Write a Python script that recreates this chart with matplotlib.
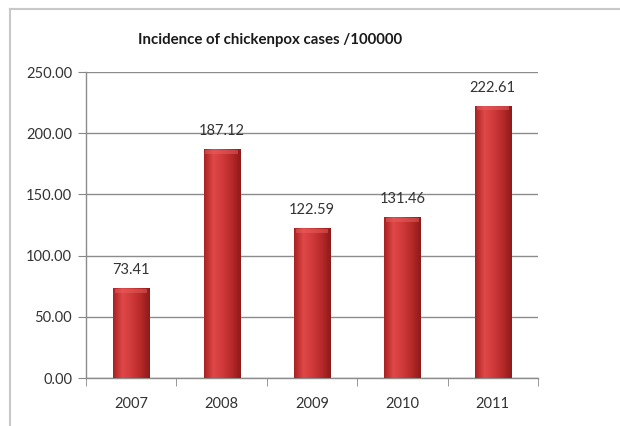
import matplotlib
matplotlib.use("Agg")
import matplotlib.pyplot as plt
import numpy as np
from matplotlib.colors import LinearSegmentedColormap

years = ["2007", "2008", "2009", "2010", "2011"]
values = [73.41, 187.12, 122.59, 131.46, 222.61]
labels = ["73.41", "187.12", "122.59", "131.46", "222.61"]
yticks = [0, 50, 100, 150, 200, 250]
title = "Incidence of chickenpox cases /100000"

plt.rcParams['font.family'] = ['Lato', 'DejaVu Sans']

fig = plt.figure(figsize=(6.2, 4.26), dpi=100)
fig.patch.set_facecolor("white")

# partial frame (top + left) in light gray
fig.add_artist(plt.Line2D([10/620, 1.0], [1-8.5/426]*2, color="#c8c8c8", lw=1.5, transform=fig.transFigure))
fig.add_artist(plt.Line2D([10/620]*2, [0, 1-8.5/426], color="#c8c8c8", lw=1.5, transform=fig.transFigure))

ax = fig.add_axes([86/620, 1-378/426, (538-86)/620, (378-72)/426])
x = np.arange(len(years))
bars = ax.bar(x, values, width=0.4, color="#c83232", edgecolor="#8a1c1c", linewidth=0.6, zorder=3)

cmap = LinearSegmentedColormap.from_list("redgrad", ["#a82222", "#e04848", "#d03a3a", "#b82a2a", "#8e1a1a"])
grad = np.linspace(0, 1, 64).reshape(1, -1)
for b in bars:
    x0, w, h = b.get_x(), b.get_width(), b.get_height()
    im = ax.imshow(grad, extent=[x0, x0 + w, 0, h], aspect="auto", cmap=cmap, zorder=3.5)
    im.set_clip_path(b)
    # top bevel highlight
    ax.fill_between([x0 + 0.02, x0 + w - 0.02], h - 4, h - 0.5, color="#e86060", alpha=0.5, zorder=4, lw=0)

for xi, v, lab in zip(x, values, labels):
    ax.text(xi, v + 9, lab, ha="center", va="bottom", fontsize=10.5, color="#333333")

ax.set_xlim(-0.5, len(years) - 0.5)
ax.set_ylim(0, 250)
ax.set_yticks(yticks)
ax.set_yticklabels([f"{t:.2f}" for t in yticks], fontsize=10.5, color="#333333")
ax.set_xticks(x)
ax.set_xticklabels(years, fontsize=10.5, color="#333333")
ax.set_xticks(np.arange(-0.5, len(years)), minor=True)
ax.tick_params(axis="x", which="major", length=0, pad=14)
ax.tick_params(axis="x", which="minor", length=6, color="#888888", direction="out")
ax.tick_params(axis="y", which="major", length=6, color="#888888", direction="out", pad=4)

ax.yaxis.grid(True, color="#8c8c8c", lw=1, zorder=0)
ax.set_axisbelow(True)
for s in ["top", "right"]:
    ax.spines[s].set_visible(False)
for s in ["left", "bottom"]:
    ax.spines[s].set_color("#8c8c8c")
    ax.spines[s].set_linewidth(1)

fig.text(270/620, 1-40/426, title, ha="center", va="center", fontsize=10.8, fontweight="bold", color="#1a1a1a")

fig.savefig("out.png", dpi=100)
